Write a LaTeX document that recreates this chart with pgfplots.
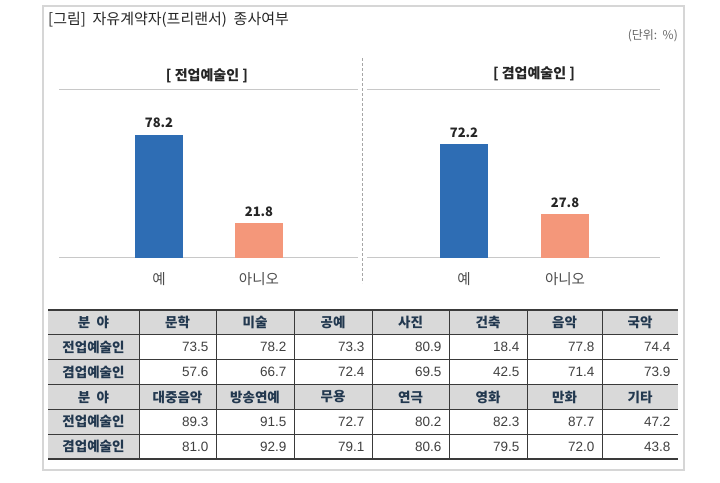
\documentclass[border=0pt]{standalone}
\usepackage{fontspec}
\setmainfont{Noto Sans CJK KR}
\newfontfamily\numfont{Liberation Sans}
\usepackage{pgfplots}
\pgfplotsset{compat=1.18}
\definecolor{barblue}{HTML}{2E6DB4}
\definecolor{barsalmon}{HTML}{F4977A}
\definecolor{linegray}{HTML}{C8C8C8}
\definecolor{hdrgray}{HTML}{D9D9D9}
\definecolor{navy}{HTML}{22384F}
\definecolor{txtgray}{HTML}{404040}
\definecolor{framegray}{HTML}{D6D6D6}
\definecolor{tabline}{HTML}{3A3A3A}
\pgfplotsset{
  panel/.style={
    anchor=south west, scale only axis, height=168.4pt,
    ymin=0, ymax=106.9,
    axis x line=box, axis y line=none,
    axis line style={linegray, line width=1.3pt},
    xtick={0,1}, xticklabels={예,아니오}, major tick length=0pt, ytick=\empty,
    xticklabel style={font=\fontsize{14.5}{16}\selectfont, text=black!70, yshift=-11pt},
    ybar, bar width=48pt, bar shift=0pt,
    nodes near coords,
    nodes near coords style={font=\bfseries\fontsize{13}{15}\selectfont, text=black!85, yshift=3pt,
      /pgf/number format/fixed, /pgf/number format/precision=1, /pgf/number format/fixed zerofill,
      /pgf/number format/assume math mode=true},
    clip=false,
  }
}
\begin{document}
\begin{tikzpicture}
\begin{scope}[x=1pt,y=-1pt]
\useasboundingbox (0,0) rectangle (720,482);
\fill[white] (0,0) rectangle (720,482);
\draw[framegray, line width=1.2pt] (43,6) rectangle (684,470);
\node[anchor=west, inner sep=0pt, font=\fontsize{15}{17}\selectfont, text=black!85] at (48,20) {[그림]\ \ 자유계약자(프리랜서)\ \ 종사여부};
\node[anchor=east, inner sep=0pt, font=\fontsize{12}{14}\selectfont, text=black!60] at (678,36) {(단위:\ \ \%)};
\node[font=\bfseries\fontsize{14}{16}\selectfont, text=black!85] at (207,76) {[ 전업예술인 ]};
\node[font=\bfseries\fontsize{14}{16}\selectfont, text=black!85] at (534,74) {[ 겸업예술인 ]};
\draw[black!35, line width=1pt, dash pattern=on 3pt off 2pt] (362,58) -- (362,283);
% table
\fill[hdrgray] (48,310) rectangle (678,334.8);
\fill[hdrgray] (48,384.5) rectangle (678,409.3);
\fill[hdrgray] (48,310) rectangle (139,459);
\foreach \y in {334.8,359.7,384.5,409.3,434.2} \draw[tabline, line width=0.8pt] (48,\y) -- (678,\y);
\draw[tabline, line width=1.4pt] (48,310) -- (678,310);
\draw[tabline, line width=1.2pt] (48,459) -- (678,459);
\foreach \x in {139,216,294,372,449,527,602} \draw[tabline, line width=0.8pt] (\x,310) -- (\x,459);
\tikzset{hdr/.style={font=\bfseries\fontsize{13.5}{15}\selectfont, text=navy},
         val/.style={font=\numfont\fontsize{13.5}{15}\selectfont, text=txtgray, anchor=east}}
\foreach \y/\t in {322.4/분\ \ 야, 347.3/전업예술인, 372.1/겸업예술인, 397/분\ \ 야, 421.8/전업예술인, 446.6/겸업예술인}
  \node[hdr] at (93.5,\y) {\t};
\foreach \x/\t in {177.5/문학, 255/미술, 333/공예, 410.5/사진, 488/건축, 564.5/음악, 640/국악}
  \node[hdr] at (\x,322.4) {\t};
\foreach \x/\t in {177.5/대중음악, 255/방송연예, 333/무용, 410.5/연극, 488/영화, 564.5/만화, 640/기타}
  \node[hdr] at (\x,397) {\t};
\foreach \x/\v in {212/73.5, 290/78.2, 368/73.3, 445/80.9, 523/18.4, 598/77.8, 674/74.4}
  \node[val] at (\x,347.3) {\v};
\foreach \x/\v in {212/57.6, 290/66.7, 368/72.4, 445/69.5, 523/42.5, 598/71.4, 674/73.9}
  \node[val] at (\x,372.1) {\v};
\foreach \x/\v in {212/89.3, 290/91.5, 368/72.7, 445/80.2, 523/82.3, 598/87.7, 674/47.2}
  \node[val] at (\x,421.8) {\v};
\foreach \x/\v in {212/81.0, 290/92.9, 368/79.1, 445/80.6, 523/79.5, 598/72.0, 674/43.8}
  \node[val] at (\x,446.6) {\v};
\end{scope}
\begin{axis}[panel, at={(59pt,-257.7pt)}, width=299pt, xmin=-1, xmax=1.99]
\addplot[fill=barblue, draw=none] coordinates {(0,78.2)};
\addplot[fill=barsalmon, draw=none] coordinates {(1,21.8)};
\end{axis}
\begin{axis}[panel, at={(367pt,-257.7pt)}, width=293pt, xmin=-0.96, xmax=1.94]
\addplot[fill=barblue, draw=none] coordinates {(0,72.2)};
\addplot[fill=barsalmon, draw=none] coordinates {(1,27.8)};
\end{axis}
\end{tikzpicture}
\end{document}
